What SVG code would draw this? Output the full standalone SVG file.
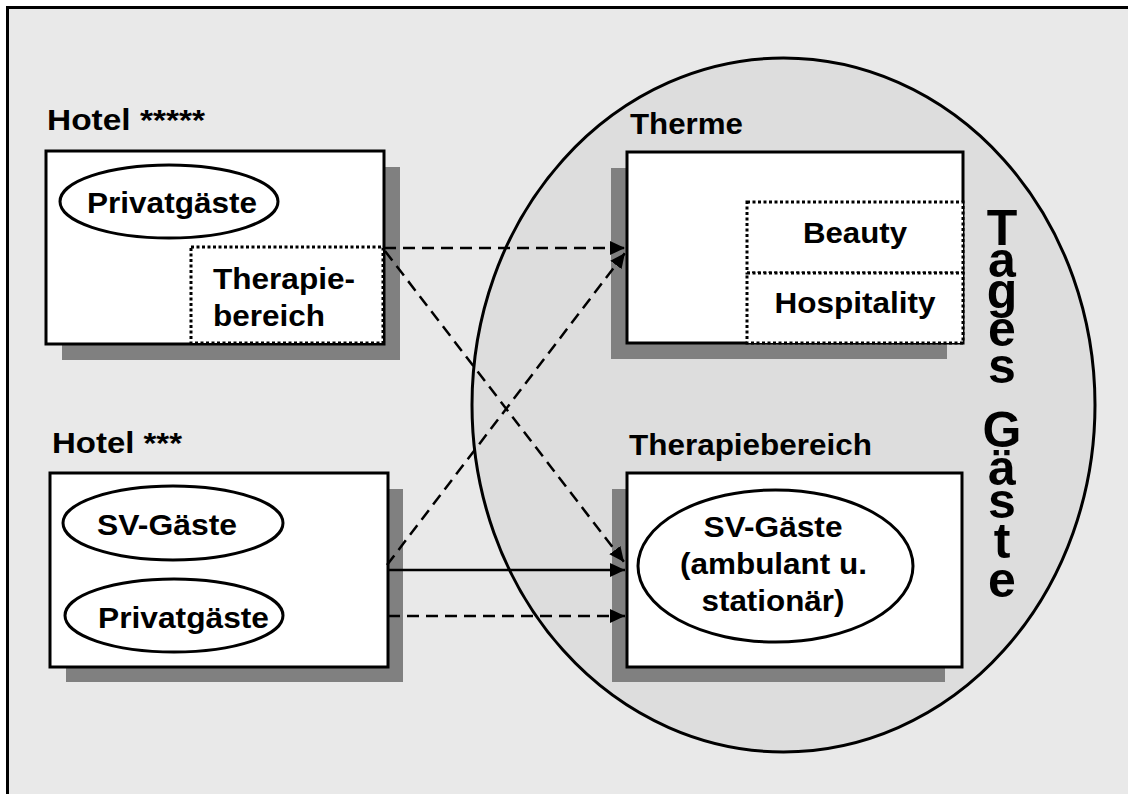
<svg xmlns="http://www.w3.org/2000/svg" width="1128" height="794" viewBox="0 0 1128 794">
  <style>
    .t { font-family: "Liberation Sans", Arial, sans-serif; font-weight: bold; font-size: 29.5px; fill: #000; }
    .v { font-family: "Liberation Sans", Arial, sans-serif; font-weight: bold; font-size: 50px; fill: #000; text-anchor: middle; }
    .mid { text-anchor: middle; }
    .box { fill: #fff; stroke: #000; stroke-width: 3; }
    .shadow { fill: #808080; }
    .dot { fill: #fff; stroke: #000; stroke-width: 3; stroke-dasharray: 3 2.5; }
    .oval { fill: #fff; stroke: #000; stroke-width: 3; }
    .link { fill: none; stroke: #000; stroke-width: 2.5; marker-end: url(#arrow); }
    .dash { stroke-dasharray: 12 7; }
  </style>
  <defs>
    <marker id="arrow" markerUnits="userSpaceOnUse" markerWidth="16" markerHeight="14" refX="15" refY="7" orient="auto">
      <path d="M0,0 L15,7 L0,14 z" fill="#000"/>
    </marker>
  </defs>

  <!-- page background and frame -->
  <rect x="0" y="0" width="1128" height="794" fill="#fff"/>
  <rect x="7.5" y="7.5" width="1130" height="800" fill="#e9e9e9" stroke="#000" stroke-width="3"/>

  <!-- day guests area with stacked vertical label -->
  <g id="tagesgaeste">
    <ellipse cx="783.5" cy="405" rx="311.5" ry="347" fill="#dddddd" stroke="#000" stroke-width="3"/>
    <text class="v"><tspan x="1002" y="245">T</tspan><tspan x="1002" y="277">a</tspan><tspan x="1002" y="308">g</tspan><tspan x="1002" y="346">e</tspan><tspan x="1002" y="383">s</tspan><tspan x="1002" y="447">G</tspan><tspan x="1002" y="485">ä</tspan><tspan x="1002" y="518">s</tspan><tspan x="1002" y="558">t</tspan><tspan x="1002" y="597">e</tspan></text>
  </g>

  <!-- Hotel five star -->
  <g id="hotel5">
    <text class="t" x="47" y="130" textLength="158" lengthAdjust="spacingAndGlyphs">Hotel *****</text>
    <rect class="shadow" x="62" y="167" width="338" height="193"/>
    <rect class="box" x="46" y="151" width="338" height="193"/>
    <ellipse class="oval" cx="169" cy="201.5" rx="109" ry="36.5"/>
    <text class="t" x="87" y="213" textLength="170" lengthAdjust="spacingAndGlyphs">Privatgäste</text>
    <rect class="dot" x="191" y="247" width="192" height="96"/>
    <text class="t" x="213" y="289" textLength="142" lengthAdjust="spacingAndGlyphs">Therapie-</text>
    <text class="t" x="213" y="326" textLength="112" lengthAdjust="spacingAndGlyphs">bereich</text>
  </g>

  <!-- Hotel three star -->
  <g id="hotel3">
    <text class="t" x="52" y="453" textLength="130" lengthAdjust="spacingAndGlyphs">Hotel ***</text>
    <rect class="shadow" x="66" y="489" width="337" height="193"/>
    <rect class="box" x="50" y="473" width="338" height="194"/>
    <ellipse class="oval" cx="173" cy="523" rx="110" ry="37"/>
    <text class="t" x="97" y="535" textLength="140" lengthAdjust="spacingAndGlyphs">SV-Gäste</text>
    <ellipse class="oval" cx="174" cy="615.5" rx="109" ry="36.5"/>
    <text class="t" x="98" y="628" textLength="171" lengthAdjust="spacingAndGlyphs">Privatgäste</text>
  </g>

  <!-- Therme -->
  <g id="therme">
    <text class="t" x="630" y="134" textLength="113" lengthAdjust="spacingAndGlyphs">Therme</text>
    <rect class="shadow" x="611" y="168" width="336" height="191"/>
    <rect class="box" x="627" y="152" width="336" height="191"/>
    <rect class="dot" x="747" y="202" width="216" height="71"/>
    <rect class="dot" x="747" y="273" width="216" height="70"/>
    <text class="t mid" x="855" y="243" textLength="104" lengthAdjust="spacingAndGlyphs">Beauty</text>
    <text class="t mid" x="855" y="313" textLength="161" lengthAdjust="spacingAndGlyphs">Hospitality</text>
  </g>

  <!-- Therapiebereich -->
  <g id="therapiebereich">
    <text class="t" x="629" y="455" textLength="243" lengthAdjust="spacingAndGlyphs">Therapiebereich</text>
    <rect class="shadow" x="612" y="489" width="333" height="193"/>
    <rect class="box" x="627" y="473" width="335" height="194"/>
    <ellipse class="oval" cx="775.5" cy="566" rx="137.5" ry="76"/>
    <text class="t mid" x="773" y="537" textLength="139" lengthAdjust="spacingAndGlyphs">SV-Gäste</text>
    <text class="t mid" x="773.5" y="574" textLength="187" lengthAdjust="spacingAndGlyphs">(ambulant u.</text>
    <text class="t mid" x="773" y="611" textLength="143" lengthAdjust="spacingAndGlyphs">stationär)</text>
  </g>

  <!-- connectors -->
  <g id="connectors">
    <path class="link dash" d="M384,248 L625,248"/>
    <path class="link dash" d="M385,251 L624,562"/>
    <path class="link dash" d="M387,565 L625,253"/>
    <path class="link" d="M388,570 L625,570"/>
    <path class="link dash" d="M388,616 L625,616"/>
  </g>
</svg>
